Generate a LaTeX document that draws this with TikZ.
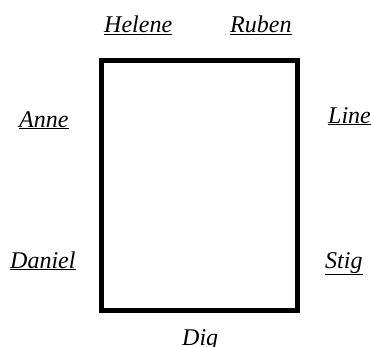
\documentclass[tikz,border=0pt]{standalone}
\usepackage{fontspec}
\setmainfont{Liberation Serif}
\begin{document}
\begin{tikzpicture}[x=1pt,y=1pt,
  lbl/.style={anchor=base west,inner sep=0pt,font=\fontsize{24}{27}\selectfont\itshape},
  frame/.style={draw=black,line width=5pt,inner sep=0pt,minimum width=196pt,minimum height=250pt}]
\useasboundingbox (0,0) rectangle (371,346);
\node[frame] (box) at (199.5,160.5) {};
\node[lbl] (helene) at (104,313) {\underline{Helene}};
\node[lbl] (ruben) at (230,313) {\underline{Ruben}};
\node[lbl] (anne) at (19,219) {\underline{Anne}};
\node[lbl] (line) at (328,223) {\underline{Line}};
\node[lbl] (daniel) at (10,78) {\underline{Daniel}};
\node[lbl] (stig) at (325,78) {\underline{Stig}};
\node[lbl] (dig) at (182,1) {Dig};
\end{tikzpicture}
\end{document}
